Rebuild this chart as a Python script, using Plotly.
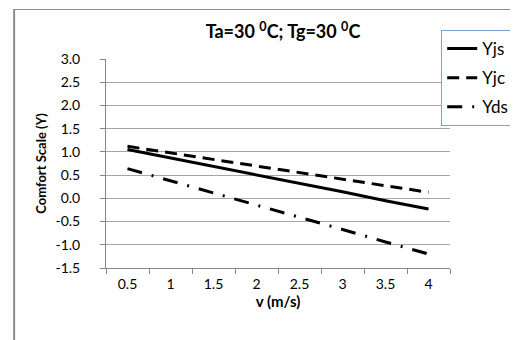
import plotly.graph_objects as go

v = ["0.5", "1", "1.5", "2", "2.5", "3", "3.5", "4"]
yjs = [1.05, 0.87, 0.69, 0.50, 0.32, 0.14, -0.05, -0.23]
yjc = [1.12, 0.98, 0.84, 0.70, 0.55, 0.41, 0.27, 0.13]
yds = [0.64, 0.38, 0.11, -0.15, -0.41, -0.67, -0.94, -1.20]
y_ticks = [3.0, 2.5, 2.0, 1.5, 1.0, 0.5, 0.0, -0.5, -1.0, -1.5]

FONT = "Lato, sans-serif"
W, H = 518, 340
L, R, T, B = 98, 450, 51, 260

fig = go.Figure()
fig.add_trace(go.Scatter(x=v, y=yjs, name="Yjs", mode="lines", legendgroup="a",
                         line=dict(color="black", width=3)))
fig.add_trace(go.Scatter(x=v, y=yjc, name="Yjc", mode="lines", legendgroup="b",
                         line=dict(color="black", width=3, dash="12px,7px")))
fig.add_trace(go.Scatter(x=v, y=yds, name="Yds", mode="lines", legendgroup="c",
                         line=dict(color="black", width=3, dash="15px,10px,2px,10px")))

def px_x(p):
    return (p - L) / (R - L)

def px_y(p):
    return (B - p) / (B - T)

fig.update_layout(
    width=W, height=H,
    margin=dict(l=L, r=W - R, t=T, b=H - B),
    paper_bgcolor="white", plot_bgcolor="white",
    font=dict(family=FONT, color="black", size=14),
    title=dict(text="Ta=30 <sup>0</sup>C; Tg=30 <sup>0</sup>C", xref="container", yref="container",
               x=275 / W, y=1 - 24 / H, xanchor="center", yanchor="middle",
               font=dict(family=FONT, size=18, color="black", weight="bold")),
    showlegend=True,
    legend=dict(x=px_x(441), y=px_y(22), xanchor="left", yanchor="top",
                bordercolor="#7f9fcf", borderwidth=1, bgcolor="white",
                font=dict(family=FONT, size=17, color="black"),
                tracegroupgap=4, itemwidth=30),
    xaxis=dict(type="category", categoryorder="array", categoryarray=v,
               range=[-0.5, 7.5],
               tickson="boundaries", ticks="outside", ticklen=5, tickcolor="#868686",
               showline=True, linecolor="#868686", linewidth=1, showgrid=False,
               ticklabelstandoff=3, tickfont=dict(size=14),
               title=dict(text="v (m/s)", font=dict(size=15, weight="bold"), standoff=3)),
    yaxis=dict(range=[-1.5, 3.0], tickvals=y_ticks, ticktext=[f"{t:.1f}" for t in y_ticks],
               ticks="outside", ticklen=5, tickcolor="#868686",
               showline=True, linecolor="#868686", linewidth=1,
               showgrid=True, gridcolor="#a6a6a6", gridwidth=1, zeroline=False,
               ticklabelstandoff=17, tickfont=dict(size=14),
               title=dict(text="Comfort Scale (Y)", font=dict(size=13, weight="bold"), standoff=5)),
    shapes=[
        dict(type="line", xref="paper", yref="paper",
             x0=px_x(4), x1=px_x(4), y0=px_y(341), y1=px_y(1),
             line=dict(color="#8c8c8c", width=2), layer="below"),
        dict(type="line", xref="paper", yref="paper",
             x0=px_x(4), x1=px_x(520), y0=px_y(1.5), y1=px_y(1.5),
             line=dict(color="#8c8c8c", width=1), layer="below"),
    ],
)

fig.write_html("out.html")
